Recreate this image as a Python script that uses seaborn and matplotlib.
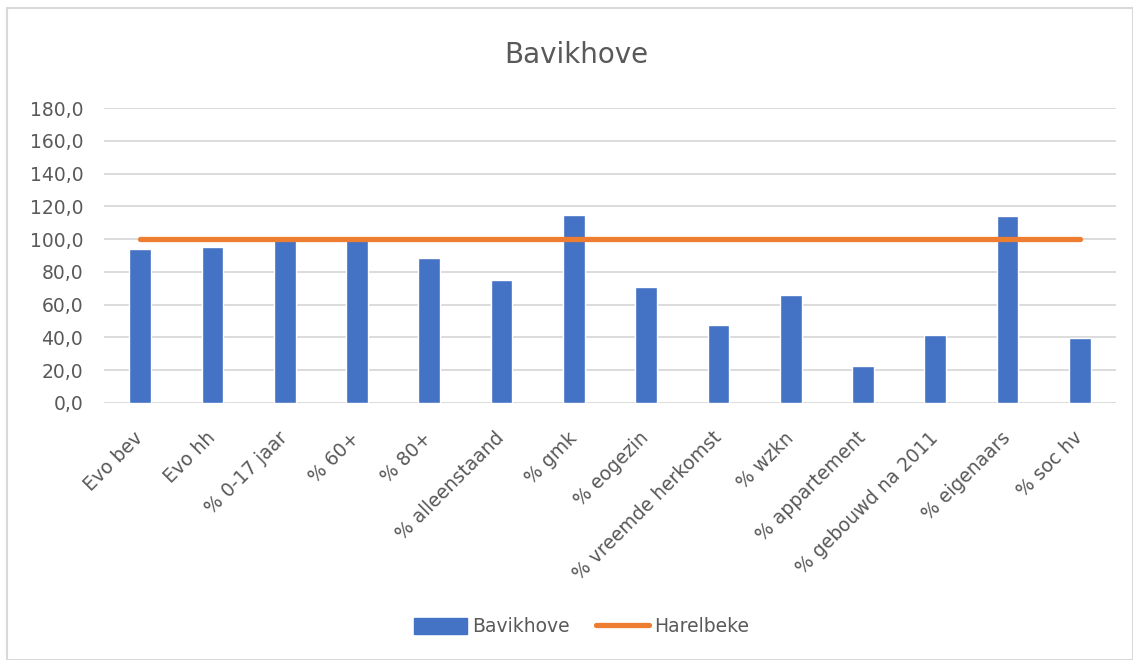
import matplotlib
matplotlib.use("Agg")
import matplotlib.pyplot as plt
import seaborn as sns
import pandas as pd
from matplotlib.patches import Rectangle, Patch
from matplotlib.lines import Line2D
from matplotlib.ticker import FuncFormatter

categories = ["Evo bev", "Evo hh", "% 0-17 jaar", "% 60+", "% 80+", "% alleenstaand",
              "% gmk", "% eogezin", "% vreemde herkomst", "% wzkn", "% appartement",
              "% gebouwd na 2011", "% eigenaars", "% soc hv"]
bavikhove = [94.1, 95.1, 99.4, 99.2, 88.6, 75.2, 114.8, 70.5, 47.5, 65.6, 22.5, 41.2, 113.8, 39.7]
harelbeke = [100.0] * 14
y_ticks = [0, 20, 40, 60, 80, 100, 120, 140, 160, 180]

sns.set_theme(style="white")
plt.rcParams['font.family'] = ['DejaVu Sans']

TXT = "#595959"
BLUE = "#4472C4"
ORANGE = "#ED7D31"
GRID = "#D9D9D9"

fig = plt.figure(figsize=(11.33, 6.6), dpi=100)
fig.patch.set_facecolor("white")
fig.patches.append(Rectangle((7/1133, 0), 1 - 7/1133, 1 - 8/660, transform=fig.transFigure,
                             fill=False, edgecolor=GRID, linewidth=1.5, zorder=0))

ax = fig.add_axes([104/1133, 1 - 403/660, (1116 - 104)/1133, (403 - 108)/660])

df = pd.DataFrame({"cat": categories, "Bavikhove": bavikhove, "Harelbeke": harelbeke})
sns.barplot(data=df, x="cat", y="Bavikhove", color=BLUE, width=0.3, saturation=1, ax=ax, zorder=2)
sns.lineplot(data=df, x="cat", y="Harelbeke", color=ORANGE, linewidth=3.8, ax=ax, zorder=3,
             solid_capstyle="round", sort=False)

ax.set_xlim(-0.5, len(categories) - 0.5)
ax.set_ylim(0, 180)
ax.set_yticks(y_ticks)
ax.yaxis.set_major_formatter(FuncFormatter(lambda v, p: f"{v:.1f}".replace(".", ",")))
ax.grid(axis="y", color=GRID, linewidth=1.3, zorder=0)
ax.set_axisbelow(True)
for s in ax.spines.values():
    s.set_visible(False)
ax.set_xlabel("")
ax.set_ylabel("")
ax.tick_params(axis="y", labelsize=13.5, colors=TXT, length=0, pad=15)
ax.tick_params(axis="x", labelsize=13.5, colors=TXT, length=0, pad=23)
ax.set_xticks(range(len(categories)))
ax.set_xticklabels(categories, rotation=45, ha="right", va="center", rotation_mode="anchor")

fig.text(576/1133, 1 - 55/660, "Bavikhove", ha="center", va="center", fontsize=20, color=TXT)

handles = [Patch(facecolor=BLUE, edgecolor=BLUE),
           Line2D([0], [0], color=ORANGE, linewidth=3.8, solid_capstyle="round")]
fig.legend(handles, ["Bavikhove", "Harelbeke"], loc="center", bbox_to_anchor=(582/1133, 1 - 627/660),
           ncol=2, frameon=False, fontsize=13.5, labelcolor=TXT, handlelength=2.8, handleheight=1.0,
           handletextpad=0.3, columnspacing=1.4)

fig.savefig("out.png", dpi=100, facecolor="white")
